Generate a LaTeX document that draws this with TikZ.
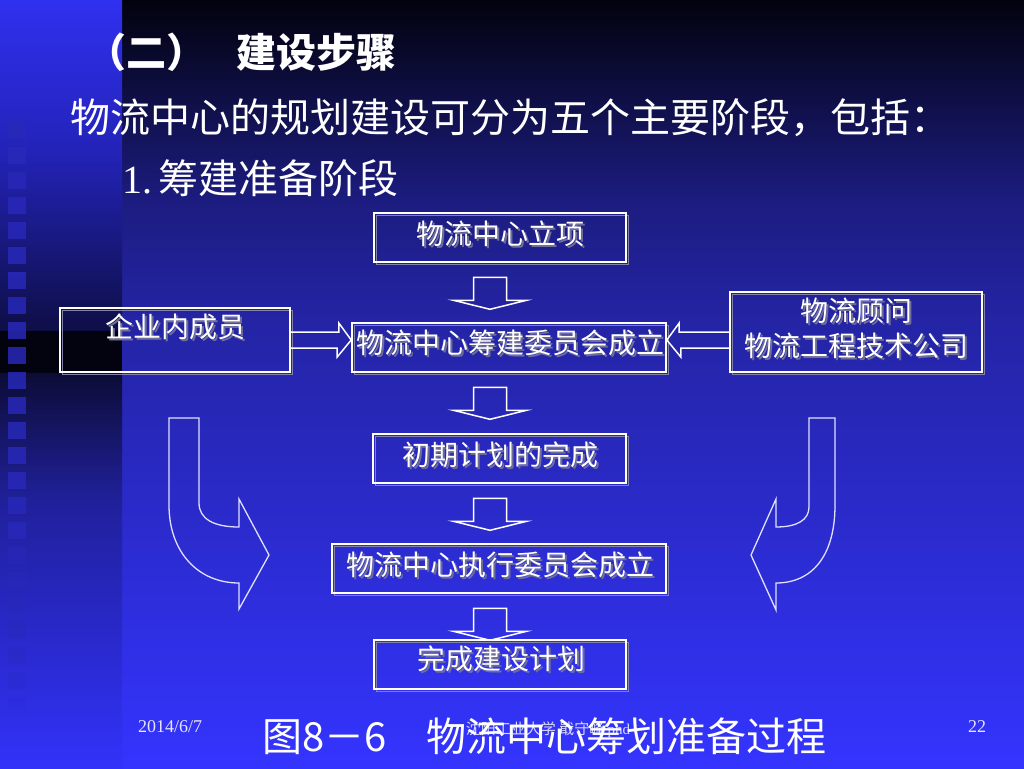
\documentclass[tikz,border=0pt]{standalone}
\usepackage{fontspec}
\setmainfont{Liberation Serif}
\newfontfamily\cjk{Noto Sans CJK SC}
\usetikzlibrary{calc}
\definecolor{shgray}{RGB}{130,130,170}
\definecolor{txsh}{RGB}{110,110,150}
\definecolor{sqblue}{RGB}{40,40,185}
\definecolor{rA}{RGB}{2,2,14}
\definecolor{rB}{RGB}{10,10,48}
\definecolor{rC}{RGB}{28,28,128}
\definecolor{rD}{RGB}{36,36,165}
\definecolor{rE}{RGB}{42,42,200}
\definecolor{rF}{RGB}{52,52,255}
\definecolor{lA}{RGB}{48,48,240}
\definecolor{lB}{RGB}{35,35,185}
\definecolor{lC}{RGB}{14,14,70}
\definecolor{lD}{RGB}{3,3,15}
\definecolor{lE}{RGB}{12,12,55}
\definecolor{lF}{RGB}{32,32,155}
\definecolor{lG}{RGB}{50,50,250}
\tikzset{
  stagebox/.style={draw=white, line width=1.6pt, inner sep=0pt},
  boxshadow/.style={draw=shgray, line width=1.6pt, inner sep=0pt},
  boxtext/.style={text=white, font=\cjk\fontsize{28}{35}\selectfont, align=center, inner sep=0pt},
  boxtextsh/.style={text=txsh, font=\cjk\fontsize{28}{35}\selectfont, align=center, inner sep=0pt},
  blockarrow/.style={draw=white, line width=1.5pt, line join=miter},
  curvearrow/.style={draw=white!88!blue, line width=1.3pt},
  bigtext/.style={text=white, font=\cjk\fontsize{40}{48}\selectfont, anchor=west, inner sep=0pt},
  foot/.style={text=white!90!blue, font=\fontsize{18}{20}\selectfont, anchor=west, inner sep=0pt},
  sq/.style={fill=sqblue, draw=none}
}
\newcommand\stagenode[5]{%
  \node[boxshadow, minimum width=#4, minimum height=#5] at (#2+2.5,#3+2.5) {};
  \node[stagebox, minimum width=#4, minimum height=#5] (#1) at (#2,#3) {};
}
\newcommand\stagetext[4]{%
  \node[boxtextsh] at (#2+2,#3+2) {#4};
  \node[boxtext] (#1) at (#2,#3) {#4};
}
\newcommand\downblock[2]{%
  \draw[blockarrow] ($(b1.south |- #1.south)+(-26.5,14.5)$) -- ++(0,23) -- ++(-20,0)
     -- ++(36.5,9) -- ++(36.5,-9) -- ++(-20,0) -- ++(0,-23) -- cycle;
}
\begin{document}
\begin{tikzpicture}[x=1pt,y=-1pt]
\useasboundingbox (0,0) rectangle (1024,768);
% right background
\shade[top color=rA, bottom color=rB, draw=none] (121.5,0) rectangle (1024,60.5);
\shade[top color=rB, bottom color=rC, draw=none] (121.5,60) rectangle (1024,200.5);
\shade[top color=rC, bottom color=rD, draw=none] (121.5,200) rectangle (1024,320.5);
\shade[top color=rD, bottom color=rE, draw=none] (121.5,320) rectangle (1024,500.5);
\shade[top color=rE, bottom color=rF, draw=none] (121.5,500) rectangle (1024,768);
% left strip
\shade[top color=lA, bottom color=lB, draw=none] (0,0) rectangle (122,150.5);
\shade[top color=lB, bottom color=lC, draw=none] (0,150) rectangle (122,331.5);
\fill[lD] (0,331) rectangle (122,373.5);
\shade[top color=lE, bottom color=lF, draw=none] (0,373) rectangle (122,500.5);
\shade[top color=lF, bottom color=lG, draw=none] (0,500) rectangle (122,768);
\foreach \k in {0,...,23} {
  \pgfmathsetmacro\op{\k<17 ? 0.85 : 0.85-0.11*(\k-16)}
  \fill[sq, fill opacity=\op] (8,122+25*\k) rectangle (26,139+25*\k);
}
% headings
\node[bigtext, font=\cjk\bfseries\fontsize{40}{48}\selectfont] (title) at (86,52) {（二）\hspace{30pt}建设步骤};
\node[bigtext] (intro) at (70,118) {物流中心的规划建设可分为五个主要阶段，包括：};
\node[bigtext] (stage) at (122,178) {{\rmfamily 1.}\hspace{6pt}筹建准备阶段};
% boxes
\stagenode{b1}{500}{237.5}{252}{49}
\stagenode{b2}{509}{347.5}{314}{49}
\stagenode{b3}{175}{340}{230}{64}
\stagenode{b4}{856}{332}{252}{80}
\stagenode{b5}{499.5}{458.5}{253}{49}
\stagenode{b6}{499}{568.5}{334}{49}
\stagenode{b7}{500}{664.5}{252}{49}
\stagetext{t1}{500}{234}{物流中心立项}
\stagetext{t2}{510}{343}{物流中心筹建委员会成立}
\stagetext{t3}{175.5}{327}{企业内成员}
\stagetext{t4}{856}{328}{物流顾问\\物流工程技术公司}
\stagetext{t5}{500}{455}{初期计划的完成}
\stagetext{t6}{500}{565}{物流中心执行委员会成立}
\stagetext{t7}{501}{659}{完成建设计划}
% down block arrows
\downblock{b1}{b2}
\downblock{b2}{b5}
\downblock{b5}{b6}
\downblock{b6}{b7}
% side block arrows
\draw[blockarrow] ($(b3.east)+(0,-8)$) -- ++(48,0) -- ++(0,-9) -- (b2.west |- b3.east)
   -- ++(-14,17) -- ++(0,-9) -- ++(-48,0);
\draw[blockarrow] (b4.west) -- ++(-50,0) -- ++(0,-9) -- (b2.east |- b3.east)
   -- ++(14,17) -- ++(0,-9) -- ++(50,0);
% curved arrows
\draw[curvearrow] (169,418) -- (199,418) -- (199,503)
   .. controls (199,519) and (214,527) .. (239,527) -- (239,499) -- (269,555)
   -- (239,609) -- (239,583) .. controls (198,583) and (169,552) .. (169,505) -- cycle;
\draw[curvearrow] (835,418) -- (809,418) -- (809,507)
   .. controls (809,520) and (797,527) .. (776,527) -- (776,499) -- (751,555)
   -- (776,610) -- (776,583) .. controls (812,583) and (835,556) .. (835,505) -- cycle;
% footer
\node[foot] (date) at (138,727) {2014/6/7};
\node[foot] (page) at (968,727) {22};
\node[text=white!85!blue, font=\cjk\fontsize{15}{18}\selectfont, inner sep=0pt] (org) at (548,730) {沈阳工业大学\ 戢守峰\ {\rmfamily phd}};
\node[bigtext] (caption) at (262,736) {图8－6\hspace{40pt}物流中心筹划准备过程};
\end{tikzpicture}
\end{document}
